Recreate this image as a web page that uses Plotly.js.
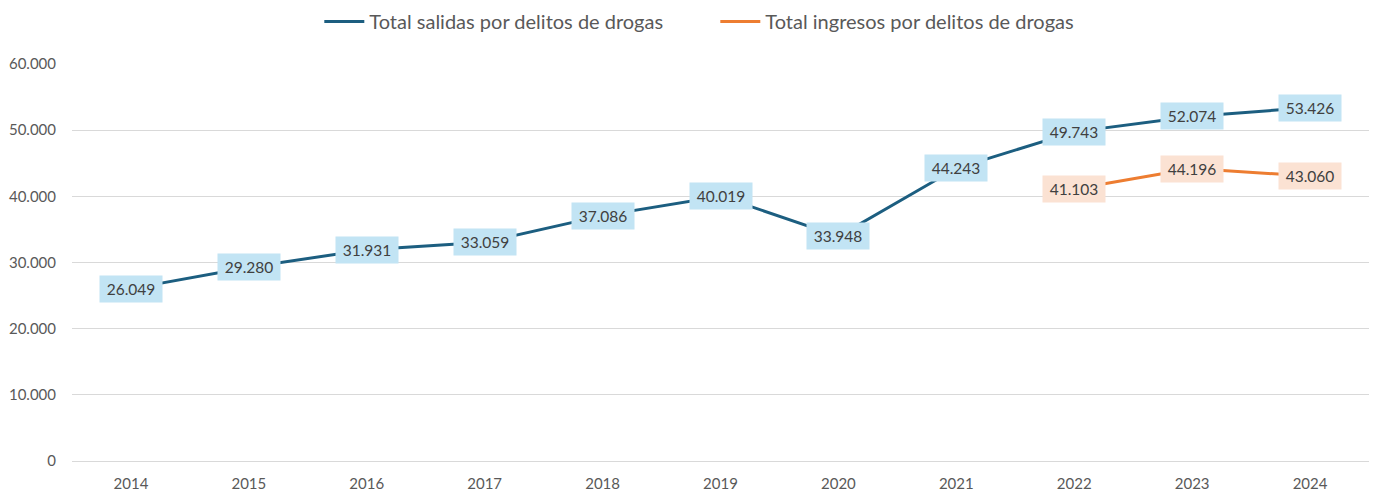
<!DOCTYPE html>
<html>
<head>
<meta charset="utf-8">
<script src="https://cdn.plot.ly/plotly-3.0.1.min.js"></script>
<style>
  html, body { margin: 0; padding: 0; background: white; }
  #chart { width: 1381px; height: 495px; }
</style>
</head>
<body>
<div id="chart"></div>
<script>
  const years = [2014, 2015, 2016, 2017, 2018, 2019, 2020, 2021, 2022, 2023, 2024];
  const salidas = [26049, 29280, 31931, 33059, 37086, 40019, 33948, 44243, 49743, 52074, 53426];
  const ingresos = [null, null, null, null, null, null, null, null, 41103, 44196, 43060];

  const nameSalidas = 'Total salidas por delitos de drogas';
  const nameIngresos = 'Total ingresos por delitos de drogas';

  const blue = '#1C5E80';
  const orange = '#ED7D31';

  function fmt(v) {
    return String(v).replace(/\B(?=(\d{3})+(?!\d))/g, '.');
  }

  function labels(values, bg) {
    const out = [];
    values.forEach(function(v, i) {
      if (v === null) return;
      out.push({
        x: years[i], y: v, xref: 'x', yref: 'y',
        text: fmt(v), showarrow: false,
        bgcolor: bg, borderpad: 4, width: 54, height: 18,
        font: { family: 'Lato, sans-serif', size: 15.5, color: '#404040' }
      });
    });
    return out;
  }

  const traces = [
    {
      x: years, y: salidas, name: nameSalidas, type: 'scatter', mode: 'lines',
      line: { color: blue, width: 3 }, hoverinfo: 'skip'
    },
    {
      x: years, y: ingresos, name: nameIngresos, type: 'scatter', mode: 'lines',
      line: { color: orange, width: 3 }, hoverinfo: 'skip'
    }
  ];

  const layout = {
    width: 1381, height: 495,
    margin: { l: 72, r: 12, t: 64, b: 34 },
    separators: ',.',
    font: { family: 'Lato, sans-serif', size: 14, color: '#595959' },
    paper_bgcolor: 'white',
    plot_bgcolor: 'white',
    showlegend: true,
    legend: {
      orientation: 'h', x: 0.496, xanchor: 'center',
      yref: 'container', y: 0.996, yanchor: 'top',
      font: { size: 20, color: '#595959' }, itemwidth: 40, entrywidth: 341
    },
    xaxis: {
      type: 'linear', range: [2013.5, 2024.5], dtick: 1, tickformat: 'd',
      showgrid: false, zeroline: false, showline: false,
      ticks: '', ticklabelstandoff: 12, tickfont: { size: 15, color: '#595959' }
    },
    yaxis: {
      range: [0, 60000], dtick: 10000, tickformat: ',d',
      gridcolor: '#D9D9D9', gridwidth: 1, zeroline: true, zerolinecolor: '#D9D9D9',
      zerolinewidth: 1, showline: false, ticks: '', ticklabelstandoff: 15,
      tickfont: { size: 15, color: '#595959' }
    },
    annotations: labels(salidas, '#C2E4F4').concat(labels(ingresos, '#FBE2D3'))
  };

  Plotly.newPlot('chart', traces, layout, { displayModeBar: false, staticPlot: true });
</script>
</body>
</html>
